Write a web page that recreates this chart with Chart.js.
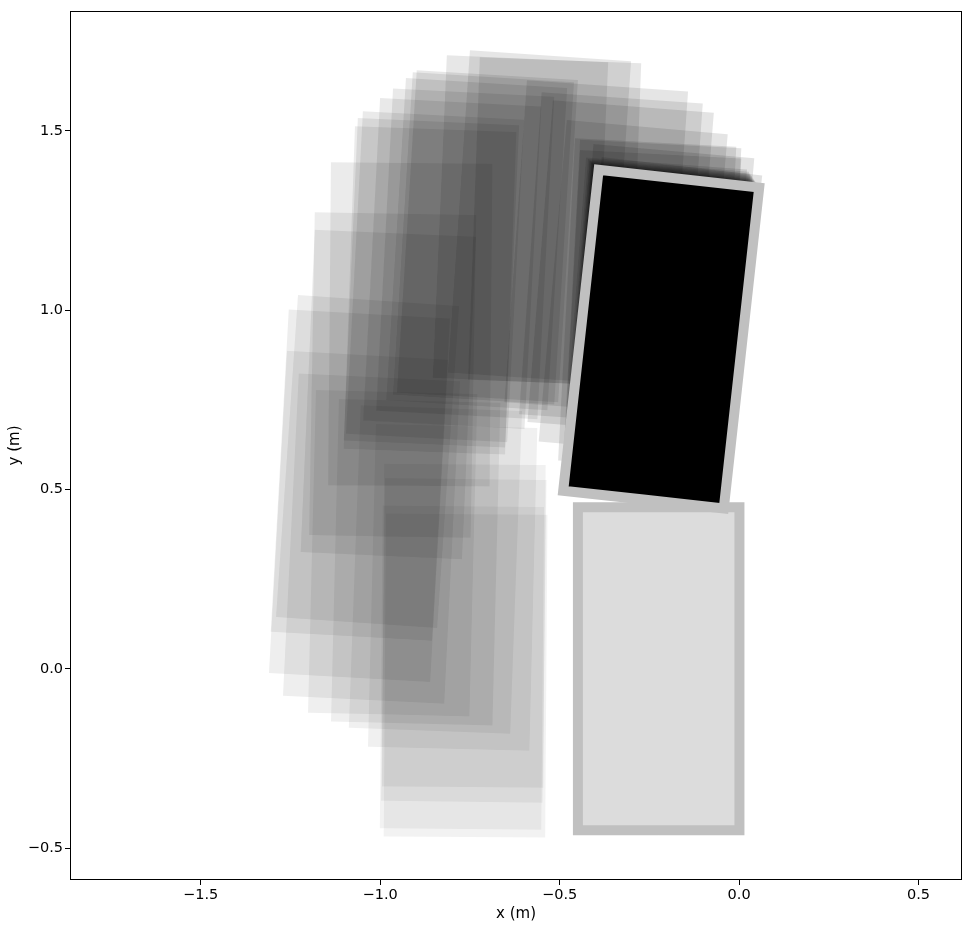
<!DOCTYPE html>
<html>
<head>
<meta charset="utf-8">
<script src="https://cdn.jsdelivr.net/npm/chart.js@4.4.1/dist/chart.umd.min.js"></script>
<style>
  html, body { margin: 0; padding: 0; background: #fff; }
  #wrap { width: 973px; height: 928px; }
</style>
</head>
<body>
<div id="wrap"><canvas id="push-chart" width="973" height="928"></canvas></div>
<script>
// box poses along the trajectory: centre x, centre y (m) and heading (deg, ccw)
const trajX = [-0.762, -0.772, -0.767, -0.767, -0.798, -0.846, -0.901, -0.965, -1.024, -1.060,
               -1.055, -1.035, -0.977, -0.965, -0.916, -0.861, -0.857, -0.847, -0.799, -0.763,
               -0.731, -0.712, -0.701, -0.609, -0.556, -0.514, -0.398, -0.357, -0.330, -0.295,
               -0.256, -0.242, -0.242, -0.221, -0.210, -0.236, -0.232, -0.230, -0.229, -0.227,
               -0.226, -0.225, -0.224, -0.223, -0.222, -0.221, -0.221, -0.220, -0.220, -0.219,
               -0.219, -0.218, -0.218, -0.217, -0.217, -0.217, -0.217];
const trajY = [-0.019, 0.003, 0.079, 0.120, 0.227, 0.277, 0.297, 0.322, 0.363, 0.425,
               0.540, 0.578, 0.765, 0.819, 0.960, 1.055, 1.076, 1.093, 1.130, 1.157,
               1.184, 1.200, 1.206, 1.251, 1.260, 1.247, 1.176, 1.143, 1.119, 1.062,
               1.018, 1.014, 0.985, 0.995, 0.954, 0.960, 0.955, 0.951, 0.948, 0.945,
               0.942, 0.939, 0.937, 0.935, 0.933, 0.931, 0.929, 0.927, 0.926, 0.924,
               0.923, 0.921, 0.920, 0.919, 0.919, 0.919, 0.919];
const trajAngle = [-0.4, -0.5, -0.7, -0.4, -1.4, -2.1, -1.4, -1.4, -2.8, -3.2,
                   -3.2, -3.9, -2.5, -1.0, -0.5, -2.0, -2.5, -3.0, -3.0, -3.0,
                   -3.5, -3.5, -3.5, -2.5, -3.9, -2.1, -4.0, -4.0, -4.5, -5.0,
                   -3.0, -3.0, -3.0, -5.0, -6.5, -4.3, -4.5, -4.7, -4.8, -4.9,
                   -5.0, -5.2, -5.3, -5.4, -5.5, -5.6, -5.7, -5.8, -5.9, -6.0,
                   -6.0, -6.1, -6.2, -6.3, -6.3, -6.3, -6.3];

const startPose = [-0.224, 0.0, 0.0];
const goalPose = [-0.217, 0.919, -6.3];

const xTicks = [-1.5, -1.0, -0.5, 0.0, 0.5];
const yTicks = [-0.5, 0.0, 0.5, 1.0, 1.5];

const boxW = 0.45;
const boxH = 0.9;

// outline of a box, starting mid bottom edge so the thick border joins cleanly
function boxOutline(cx, cy, deg) {
  const a = deg * Math.PI / 180;
  const c = Math.cos(a), s = Math.sin(a);
  const hw = boxW / 2, hh = boxH / 2;
  const local = [[0, -hh], [hw, -hh], [hw, hh], [-hw, hh], [-hw, -hh], [0, -hh]];
  return local.map(([u, v]) => ({ x: cx + u * c - v * s, y: cy + u * s + v * c }));
}

const n = trajX.length;
const trajSets = trajX.map((x, i) => ({
  data: boxOutline(x, trajY[i], trajAngle[i]),
  fill: 'shape',
  backgroundColor: 'rgba(0,0,0,' + (0.05 + 0.11 * i / (n - 1)).toFixed(3) + ')',
  borderColor: 'rgba(0,0,0,0)',
  borderWidth: 0,
  pointRadius: 0,
  tension: 0,
}));

const startSet = {
  data: boxOutline(startPose[0], startPose[1], startPose[2]),
  fill: 'shape',
  backgroundColor: '#dcdcdc',
  borderColor: '#c0c0c0',
  borderWidth: 10,
  borderJoinStyle: 'miter',
  pointRadius: 0,
  tension: 0,
};

const goalSet = {
  data: boxOutline(goalPose[0], goalPose[1], goalPose[2]),
  fill: 'shape',
  backgroundColor: '#000000',
  borderColor: '#c0c0c0',
  borderWidth: 10,
  borderJoinStyle: 'miter',
  pointRadius: 0,
  tension: 0,
};

const fmt = (v) => v.toFixed(1).replace('-', '\u2212');

const frame = {
  id: 'frame',
  afterDraw(chart) {
    const { ctx, chartArea: a } = chart;
    ctx.save();
    ctx.strokeStyle = '#000';
    ctx.lineWidth = 1;
    ctx.strokeRect(a.left + 0.5, a.top + 0.5, a.right - a.left - 1, a.bottom - a.top - 1);
    ctx.restore();
  }
};

const tickFont = { family: 'DejaVu Sans', size: 14.5 };
const titleFont = { family: 'DejaVu Sans', size: 15 };

new Chart(document.getElementById('push-chart'), {
  type: 'line',
  data: { datasets: [goalSet, startSet, ...trajSets] },
  options: {
    responsive: false,
    devicePixelRatio: 1,
    animation: false,
    events: [],
    layout: { padding: { top: 11, right: 11, left: 0, bottom: 0 } },
    plugins: {
      legend: { display: false },
      tooltip: { enabled: false },
    },
    scales: {
      x: {
        type: 'linear',
        min: -1.864,
        max: 0.621,
        afterBuildTicks: (s) => { s.ticks = xTicks.map(v => ({ value: v })); },
        afterFit: (s) => { s.height = 48; },
        ticks: { callback: fmt, color: '#000', font: tickFont, padding: 2, maxRotation: 0 },
        grid: { drawOnChartArea: false, color: '#000', tickLength: 5 },
        border: { display: false },
        title: { display: true, text: 'x (m)', color: '#000', font: titleFont, padding: { top: 0, bottom: 5 } },
      },
      y: {
        type: 'linear',
        min: -0.589,
        max: 1.834,
        afterBuildTicks: (s) => { s.ticks = yTicks.map(v => ({ value: v })); },
        afterFit: (s) => { s.width = 70; },
        ticks: { callback: fmt, color: '#000', font: tickFont, padding: 2 },
        grid: { drawOnChartArea: false, color: '#000', tickLength: 5 },
        border: { display: false },
        title: { display: true, text: 'y (m)', color: '#000', font: titleFont, padding: { top: 6, bottom: 0 } },
      },
    },
  },
  plugins: [frame],
});
</script>
</body>
</html>
